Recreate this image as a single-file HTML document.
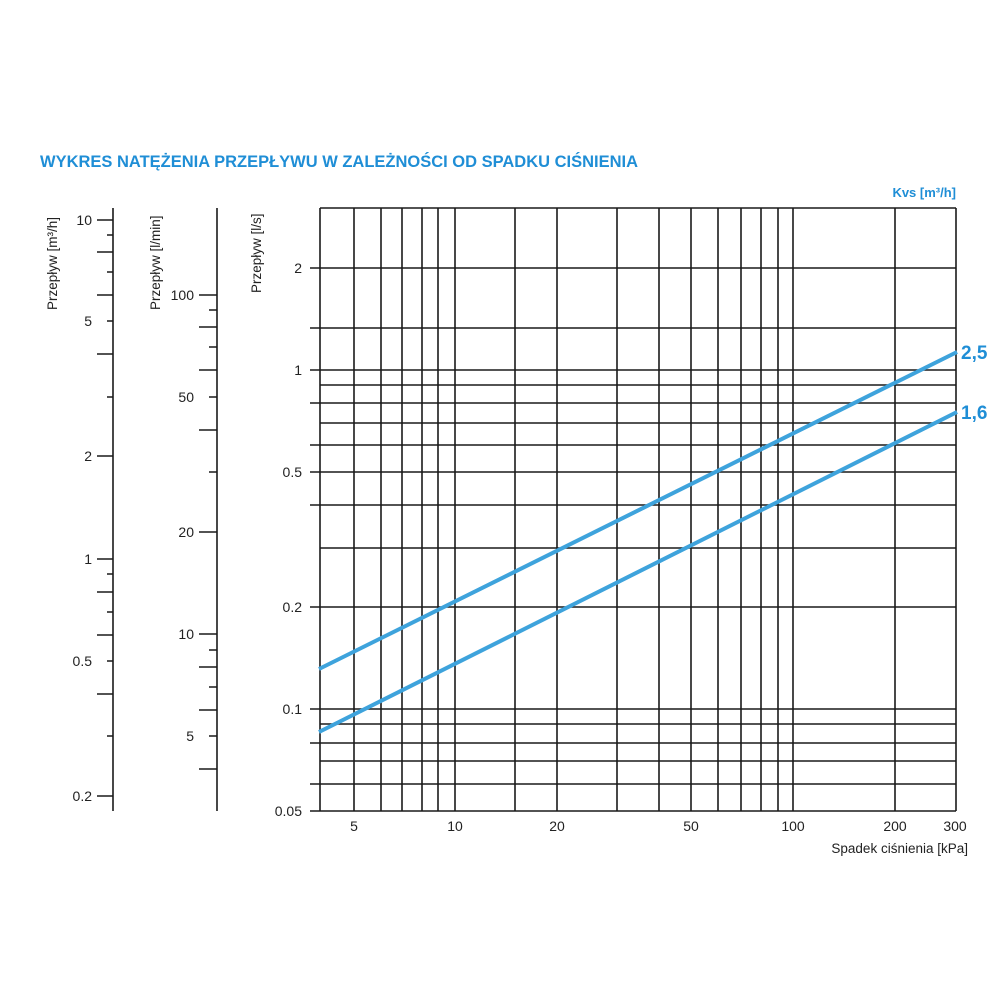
<!DOCTYPE html>
<html><head><meta charset="utf-8"><style>
html,body{margin:0;padding:0;background:#fff;}
svg{display:block;font-family:"Liberation Sans",sans-serif;}
</style></head><body>
<svg width="1000" height="1000" viewBox="0 0 1000 1000" xmlns="http://www.w3.org/2000/svg">
<rect width="1000" height="1000" fill="#fff"/>
<text x="40" y="167" font-size="17" font-weight="bold" fill="#1f8ed6" textLength="598" lengthAdjust="spacingAndGlyphs">WYKRES NATĘŻENIA PRZEPŁYWU W ZALEŻNOŚCI OD SPADKU CIŚNIENIA</text>
<text x="956" y="197" font-size="13" font-weight="bold" fill="#1f8ed6" text-anchor="end">Kvs [m³/h]</text>

<g stroke="#1a1a1a" stroke-width="1.6" fill="none">
<!-- vertical grid -->
<path d="M320 208V811 M354 208V811 M381 208V811 M402 208V811 M422 208V811 M438 208V811 M455 208V811 M515 208V811 M557 208V811 M617 208V811 M659 208V811 M691 208V811 M718 208V811 M741 208V811 M761 208V811 M778 208V811 M793 208V811 M895 208V811 M956 208V811"/>
<!-- horizontal with ticks -->
<path d="M320 208H956 M310 268H956 M310 328H956 M310 370H956 M320 385H956 M310 403H956 M320 423H956 M310 445H956 M310 472H956 M310 505H956 M320 548H956 M310 607H956 M310 709H956 M320 724H956 M310 743H956 M320 761H956 M310 784H956 M310 811H956"/>
<!-- m3/h axis -->
<path d="M113 208V811 M97 220H113 M107 235H113 M97 252H113 M107 272H113 M97 295H113 M107 321H113 M97 354H113 M107 397H113 M97 456H113 M97 559H113 M107 574H113 M97 592H113 M107 612H113 M97 635H113 M107 661H113 M97 694H113 M107 736H113 M97 796H113"/>
<!-- l/min axis -->
<path d="M217 208V811 M199 295H217 M209 310H217 M199 327H217 M209 347H217 M199 370H217 M209 397H217 M199 430H217 M209 472H217 M199 532H217 M199 634H217 M209 650H217 M199 667H217 M209 687H217 M199 710H217 M209 736H217 M199 769H217"/>
</g>

<g stroke="#3ea3dc" stroke-width="4" stroke-linecap="butt">
<line x1="319" y1="669" x2="957" y2="352"/>
<line x1="319" y1="732" x2="957" y2="412"/>
</g>
<text x="961" y="359" font-size="19" font-weight="bold" fill="#1f8ed6">2,5</text>
<text x="961" y="419" font-size="19" font-weight="bold" fill="#1f8ed6">1,6</text>

<g font-size="14" fill="#222" text-anchor="end">
<text x="92" y="225">10</text><text x="92" y="326">5</text><text x="92" y="461">2</text>
<text x="92" y="564">1</text><text x="92" y="666">0.5</text><text x="92" y="801">0.2</text>
<text x="194" y="300">100</text><text x="194" y="402">50</text><text x="194" y="537">20</text>
<text x="194" y="639">10</text><text x="194" y="741">5</text>
<text x="302" y="273">2</text><text x="302" y="375">1</text><text x="302" y="477">0.5</text>
<text x="302" y="612">0.2</text><text x="302" y="714">0.1</text><text x="302" y="816">0.05</text>
</g>
<g font-size="14" fill="#222" text-anchor="middle">
<text x="354" y="831">5</text><text x="455" y="831">10</text><text x="557" y="831">20</text>
<text x="691" y="831">50</text><text x="793" y="831">100</text><text x="895" y="831">200</text><text x="955" y="831">300</text>
</g>
<text x="968" y="853" font-size="13.5" fill="#222" text-anchor="end">Spadek ciśnienia [kPa]</text>

<g font-size="13.5" fill="#222">
<text transform="translate(57,310) rotate(-90)">Przepływ [m³/h]</text>
<text transform="translate(160,310) rotate(-90)">Przepływ [l/min]</text>
<text transform="translate(261,293) rotate(-90)">Przepływ [l/s]</text>
</g>
</svg>
</body></html>
